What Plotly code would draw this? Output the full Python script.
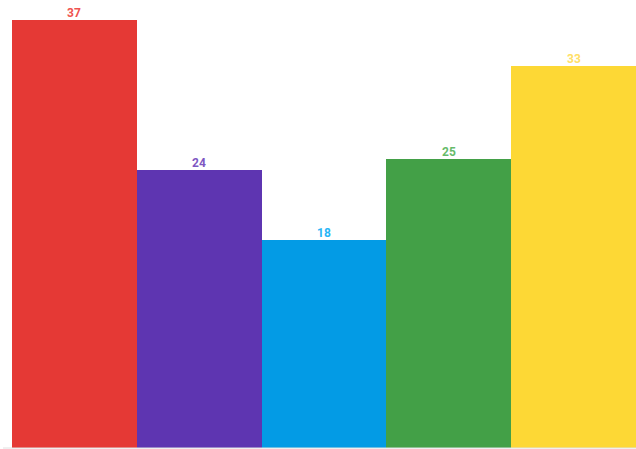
import plotly.graph_objects as go

categories = ["A", "B", "C", "D", "E"]
values = [37, 24, 18, 25, 33]
bar_colors = ["#E53935", "#5E35B1", "#039BE5", "#43A047", "#FDD835"]
label_colors = ["#EF5350", "#7E57C2", "#29B6F6", "#66BB6A", "#FFE066"]

fig = go.Figure(go.Bar(
    x=categories, y=values,
    marker=dict(color=bar_colors, line=dict(width=0)),
    cliponaxis=False,
))
for c, v, col in zip(categories, values, label_colors):
    fig.add_annotation(x=c, y=v, text=str(v), showarrow=False, yanchor="bottom",
                       yshift=-2, font=dict(color=col, size=12, family="Roboto", weight="bold"))
fig.update_layout(
    width=636, height=449,
    margin=dict(l=12, r=0, t=0, b=1),
    paper_bgcolor="white", plot_bgcolor="white",
    bargap=0, showlegend=False,
    xaxis=dict(visible=False),
    yaxis=dict(visible=False, range=[0, 38.72]),
    shapes=[dict(type="line", xref="paper", yref="paper", x0=-9/624, x1=1, y0=0, y1=0,
                 line=dict(color="#E0E0E0", width=1))],
)
fig.write_html("out.html")
